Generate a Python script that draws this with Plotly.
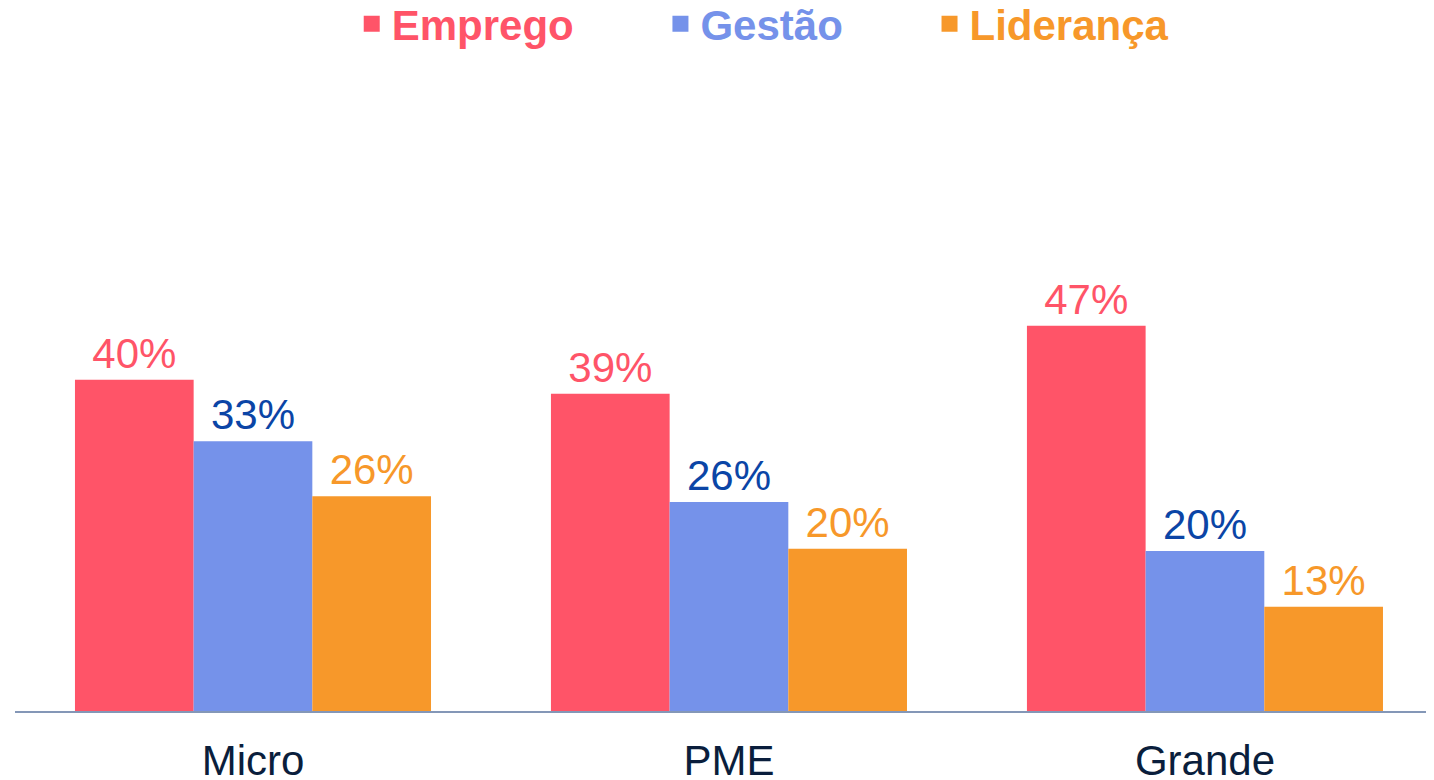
import plotly.graph_objects as go

categorias = ['Micro', 'PME', 'Grande']
emprego = [40.4, 38.7, 47.0]
gestao = [32.9, 25.5, 19.5]
lideranca = [26.2, 19.8, 12.7]
rotulos_emprego = ['40%', '39%', '47%']
rotulos_gestao = ['33%', '26%', '20%']
rotulos_lideranca = ['26%', '20%', '13%']

FONTE = '"Liberation Sans", Arial, sans-serif'
ESPACO = '&nbsp;' * 7

series = [
    ('Emprego', emprego, rotulos_emprego, '#FF5468', '#FF5468'),
    ('Gestão', gestao, rotulos_gestao, '#7592EA', '#0B45A6'),
    ('Liderança', lideranca, rotulos_lideranca, '#F7982A', '#F7982A'),
]

fig = go.Figure()

for nome, valores, rotulos, cor, cor_rotulo in series:
    fig.add_trace(go.Bar(
        x=categorias,
        y=valores,
        name=nome,
        marker=dict(color=cor, line=dict(width=0)),
        text=rotulos,
        textposition='outside',
        textfont=dict(size=42, color=cor_rotulo, family=FONTE),
        cliponaxis=False,
        showlegend=False,
        hoverinfo='skip'
    ))

# entradas de legenda (quadrados maiores que o simbolo padrao das barras)
for i, (nome, valores, rotulos, cor, cor_rotulo) in enumerate(series):
    sufixo = ESPACO if i < len(series) - 1 else ''
    fig.add_trace(go.Scatter(
        x=[None],
        y=[None],
        mode='markers',
        name=f'<b><span style="color:{cor}">{nome}</span></b>{sufixo}',
        marker=dict(symbol='square', size=22, color=cor)
    ))

fig.update_layout(
    width=1434,
    height=780,
    margin=dict(l=7, r=0, t=52, b=77, autoexpand=False),
    paper_bgcolor='white',
    plot_bgcolor='white',
    barmode='group',
    bargap=0.252,
    bargroupgap=0,
    font=dict(family=FONTE),
    legend=dict(
        orientation='h',
        xref='container',
        yref='container',
        x=0.2397,
        xanchor='left',
        y=0.9794,
        yanchor='middle',
        font=dict(size=42, family=FONTE),
        itemsizing='trace',
        bgcolor='rgba(0,0,0,0)'
    ),
    xaxis=dict(
        range=[-0.5, 2.498],
        showline=True,
        linecolor='#8497B7',
        linewidth=2,
        showgrid=False,
        ticks='',
        ticklabelstandoff=12,
        tickfont=dict(size=42, color='#0A1E3C', family=FONTE)
    ),
    yaxis=dict(
        range=[0, 79.4],
        visible=False
    )
)

fig.write_html('out.html')
